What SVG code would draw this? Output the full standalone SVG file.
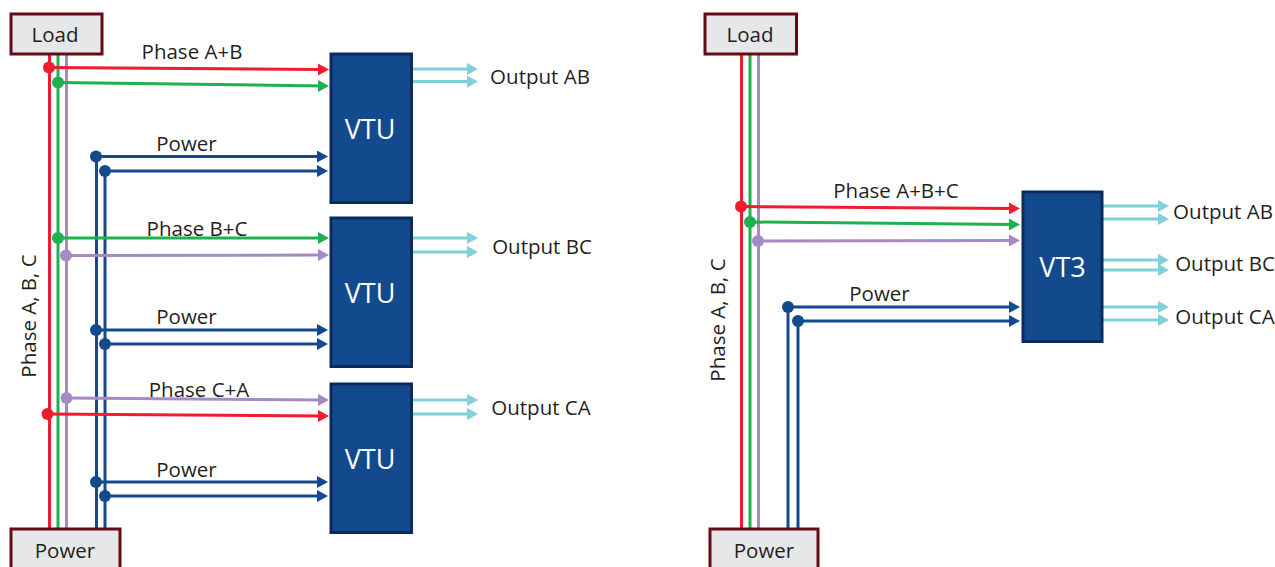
<svg xmlns="http://www.w3.org/2000/svg" width="1275" height="567" viewBox="0 0 1275 567">
<style>
text{font-family:"Open Sans","Noto Sans","Liberation Sans",sans-serif;font-size:20.5px;fill:#231f20;text-anchor:middle}
.b{fill:#134a8e;stroke:#0b2a5e;stroke-width:3}
.t{fill:#e6e7e8;stroke:#660a16;stroke-width:3}
.w{fill:#fff;font-size:27px}
line{fill:none;stroke-width:3}
.r{stroke:#ee1c2e}.g{stroke:#1fb14f}.p{stroke:#a68bc2}.n{stroke:#134a8e}.c{stroke:#7fd0d8}
.ra{marker-end:url(#mr)}.ga{marker-end:url(#mg)}.pa{marker-end:url(#mp)}.na{marker-end:url(#mn)}.ca{marker-end:url(#mc)}
.dr{fill:#ee1c2e}.dg{fill:#1fb14f}.dp{fill:#a68bc2}.dn{fill:#134a8e}
</style>
<defs>
<marker id="mr" markerUnits="userSpaceOnUse" markerWidth="11" markerHeight="12" refX="5" refY="6" orient="auto"><path d="M0 0L11 6L0 12Z" fill="#ee1c2e"/></marker>
<marker id="mg" markerUnits="userSpaceOnUse" markerWidth="11" markerHeight="12" refX="5" refY="6" orient="auto"><path d="M0 0L11 6L0 12Z" fill="#1fb14f"/></marker>
<marker id="mp" markerUnits="userSpaceOnUse" markerWidth="11" markerHeight="12" refX="5" refY="6" orient="auto"><path d="M0 0L11 6L0 12Z" fill="#a68bc2"/></marker>
<marker id="mn" markerUnits="userSpaceOnUse" markerWidth="11" markerHeight="12" refX="5" refY="6" orient="auto"><path d="M0 0L11 6L0 12Z" fill="#134a8e"/></marker>
<marker id="mc" markerUnits="userSpaceOnUse" markerWidth="11" markerHeight="12" refX="5" refY="6" orient="auto"><path d="M0 0L11 6L0 12Z" fill="#7fd0d8"/></marker>
</defs>
<g id="connectors">
<line class="r" x1="49.500" y1="54" x2="49.500" y2="529"/>
<line class="g" x1="58" y1="54" x2="58" y2="529"/>
<line class="p" x1="66.500" y1="54" x2="66.500" y2="529"/>
<line class="n" x1="96.500" y1="157" x2="96.500" y2="529"/>
<line class="n" x1="105" y1="171" x2="105" y2="529"/>
<line class="r ra" x1="49" y1="67.500" x2="323" y2="69.500"/>
<line class="g ga" x1="58" y1="82.500" x2="323" y2="86"/>
<line class="n na" x1="96" y1="156.500" x2="322" y2="156.500"/>
<line class="n na" x1="105" y1="171" x2="322" y2="171"/>
<line class="g ga" x1="58" y1="238" x2="323" y2="238"/>
<line class="p pa" x1="66" y1="255.500" x2="323" y2="255"/>
<line class="n na" x1="96" y1="330" x2="322" y2="330"/>
<line class="n na" x1="105" y1="344" x2="322" y2="344"/>
<line class="p pa" x1="66" y1="398" x2="323" y2="400"/>
<line class="r ra" x1="47" y1="414" x2="323" y2="416"/>
<line class="n na" x1="96" y1="482" x2="322" y2="482"/>
<line class="n na" x1="105" y1="496" x2="322" y2="496"/>
<line class="c ca" x1="412" y1="69" x2="472" y2="69"/>
<line class="c ca" x1="412" y1="81.500" x2="472" y2="81.500"/>
<line class="c ca" x1="412" y1="238" x2="472" y2="238"/>
<line class="c ca" x1="412" y1="252" x2="472" y2="252"/>
<line class="c ca" x1="412" y1="400" x2="472" y2="400"/>
<line class="c ca" x1="412" y1="414" x2="472" y2="414"/>
<line class="r" x1="741.500" y1="54" x2="741.500" y2="529"/>
<line class="g" x1="750" y1="54" x2="750" y2="529"/>
<line class="p" x1="758.500" y1="54" x2="758.500" y2="529"/>
<line class="n" x1="788" y1="307" x2="788" y2="529"/>
<line class="n" x1="798" y1="321" x2="798" y2="529"/>
<line class="r ra" x1="741" y1="206.500" x2="1014" y2="208.500"/>
<line class="g ga" x1="750" y1="222" x2="1014" y2="224.500"/>
<line class="p pa" x1="758" y1="241" x2="1014" y2="240.500"/>
<line class="n na" x1="788" y1="307" x2="1014" y2="307"/>
<line class="n na" x1="798" y1="321" x2="1014" y2="321"/>
<line class="c ca" x1="1102" y1="206" x2="1163" y2="206"/>
<line class="c ca" x1="1102" y1="219" x2="1163" y2="219"/>
<line class="c ca" x1="1102" y1="260" x2="1163" y2="260"/>
<line class="c ca" x1="1102" y1="270" x2="1163" y2="270"/>
<line class="c ca" x1="1102" y1="307" x2="1163" y2="307"/>
<line class="c ca" x1="1102" y1="320" x2="1163" y2="320"/>
<circle class="dr" cx="49" cy="67.500" r="6"/>
<circle class="dg" cx="58" cy="82.500" r="6"/>
<circle class="dn" cx="96" cy="156.500" r="6"/>
<circle class="dn" cx="105" cy="171" r="6"/>
<circle class="dg" cx="58" cy="238" r="6"/>
<circle class="dp" cx="66" cy="255.500" r="6"/>
<circle class="dn" cx="96" cy="330" r="6"/>
<circle class="dn" cx="105" cy="344" r="6"/>
<circle class="dp" cx="66.500" cy="398" r="6"/>
<circle class="dr" cx="47.500" cy="414" r="6"/>
<circle class="dn" cx="96" cy="482" r="6"/>
<circle class="dn" cx="105" cy="496" r="6"/>
<circle class="dr" cx="741" cy="206.500" r="6"/>
<circle class="dg" cx="750" cy="222" r="6"/>
<circle class="dp" cx="758" cy="241" r="6"/>
<circle class="dn" cx="788" cy="307" r="6"/>
<circle class="dn" cx="798" cy="321" r="6"/>
</g>
<g id="load-left"><rect class="t" x="11" y="14" width="91" height="40"/><text x="55" y="42">Load</text></g>
<g id="power-left"><rect class="t" x="11" y="529" width="109" height="50"/><text x="65" y="558">Power</text></g>
<g id="vtu-ab"><rect class="b" x="331" y="54" width="80.500" height="148.500"/><text class="w" x="370" y="139">VTU</text></g>
<g id="vtu-bc"><rect class="b" x="331" y="218" width="80.500" height="148.500"/><text class="w" x="370" y="303">VTU</text></g>
<g id="vtu-ca"><rect class="b" x="331" y="384" width="80.500" height="148.500"/><text class="w" x="370" y="469">VTU</text></g>
<g id="load-right"><rect class="t" x="705" y="14" width="91.500" height="40"/><text x="750" y="42">Load</text></g>
<g id="power-right"><rect class="t" x="710" y="529" width="108" height="50"/><text x="764" y="558">Power</text></g>
<g id="vt3"><rect class="b" x="1023" y="192" width="79" height="149.500"/><text class="w" x="1062.500" y="277">VT3</text></g>
<g id="labels">
<text x="192" y="59">Phase A+B</text>
<text x="186.500" y="151">Power</text>
<text x="197" y="236">Phase B+C</text>
<text x="186.500" y="324">Power</text>
<text x="199" y="397">Phase C+A</text>
<text x="186.500" y="477">Power</text>
<text x="540" y="84">Output AB</text>
<text x="542" y="254">Output BC</text>
<text x="541" y="415">Output CA</text>
<text x="896" y="198">Phase A+B+C</text>
<text x="879.500" y="301">Power</text>
<text x="1223" y="219">Output AB</text>
<text x="1225" y="271">Output BC</text>
<text x="1225" y="324">Output CA</text>
<text transform="translate(36 316) rotate(-90)">Phase A, B, C</text>
<text transform="translate(725 320) rotate(-90)">Phase A, B, C</text>
</g>
</svg>
